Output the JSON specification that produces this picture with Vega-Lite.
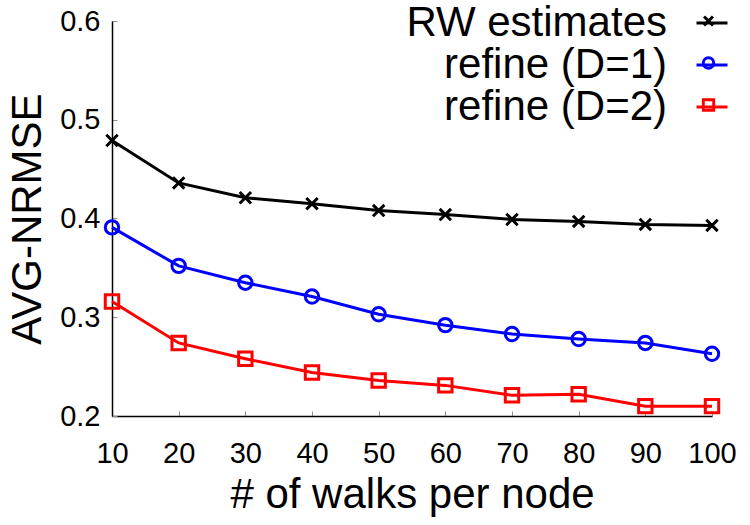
{
  "$schema": "https://vega.github.io/schema/vega-lite/v6.json",
  "width": 600,
  "height": 395,
  "autosize": {"type": "none"},
  "padding": {"left": 112, "top": 21, "right": 38, "bottom": 109},
  "background": "white",
  "config": {
    "view": {"stroke": null},
    "font": "Liberation Sans",
    "axis": {
      "grid": false,
      "domainColor": "#000000",
      "domainWidth": 1.5,
      "tickColor": "#909090",
      "tickWidth": 1,
      "tickSize": -5,
      "labelFont": "Liberation Sans",
      "labelFontSize": 29,
      "labelColor": "#000000",
      "titleFont": "Liberation Sans",
      "titleFontSize": 42,
      "titleFontWeight": "normal",
      "titleColor": "#000000"
    }
  },
  "data": {
    "values": [
      {"walks": 10, "series": "RW estimates", "nrmse": 0.479},
      {"walks": 20, "series": "RW estimates", "nrmse": 0.436},
      {"walks": 30, "series": "RW estimates", "nrmse": 0.421},
      {"walks": 40, "series": "RW estimates", "nrmse": 0.415},
      {"walks": 50, "series": "RW estimates", "nrmse": 0.408},
      {"walks": 60, "series": "RW estimates", "nrmse": 0.404},
      {"walks": 70, "series": "RW estimates", "nrmse": 0.399},
      {"walks": 80, "series": "RW estimates", "nrmse": 0.397},
      {"walks": 90, "series": "RW estimates", "nrmse": 0.394},
      {"walks": 100, "series": "RW estimates", "nrmse": 0.393},
      {"walks": 10, "series": "refine (D=1)", "nrmse": 0.391},
      {"walks": 20, "series": "refine (D=1)", "nrmse": 0.352},
      {"walks": 30, "series": "refine (D=1)", "nrmse": 0.335},
      {"walks": 40, "series": "refine (D=1)", "nrmse": 0.321},
      {"walks": 50, "series": "refine (D=1)", "nrmse": 0.303},
      {"walks": 60, "series": "refine (D=1)", "nrmse": 0.292},
      {"walks": 70, "series": "refine (D=1)", "nrmse": 0.283},
      {"walks": 80, "series": "refine (D=1)", "nrmse": 0.278},
      {"walks": 90, "series": "refine (D=1)", "nrmse": 0.274},
      {"walks": 100, "series": "refine (D=1)", "nrmse": 0.263},
      {"walks": 10, "series": "refine (D=2)", "nrmse": 0.316},
      {"walks": 20, "series": "refine (D=2)", "nrmse": 0.274},
      {"walks": 30, "series": "refine (D=2)", "nrmse": 0.258},
      {"walks": 40, "series": "refine (D=2)", "nrmse": 0.244},
      {"walks": 50, "series": "refine (D=2)", "nrmse": 0.236},
      {"walks": 60, "series": "refine (D=2)", "nrmse": 0.231},
      {"walks": 70, "series": "refine (D=2)", "nrmse": 0.221},
      {"walks": 80, "series": "refine (D=2)", "nrmse": 0.222},
      {"walks": 90, "series": "refine (D=2)", "nrmse": 0.210},
      {"walks": 100, "series": "refine (D=2)", "nrmse": 0.210}
    ]
  },
  "encoding": {
    "x": {
      "field": "walks",
      "type": "quantitative",
      "title": "# of walks per node",
      "scale": {"domain": [10, 100], "nice": false},
      "axis": {
        "values": [10, 20, 30, 40, 50, 60, 70, 80, 90, 100],
        "labelPadding": 28,
        "labelBaseline": "top",
        "labelFlush": false,
        "titlePadding": 6
      }
    },
    "y": {
      "field": "nrmse",
      "type": "quantitative",
      "title": "AVG-NRMSE",
      "scale": {"domain": [0.2, 0.6], "nice": false, "zero": false},
      "axis": {
        "values": [0.2, 0.3, 0.4, 0.5, 0.6],
        "format": ".1f",
        "labelPadding": 17,
        "labelFlush": false,
        "titlePadding": 10
      }
    }
  },
  "layer": [
    {
      "mark": {"type": "line", "strokeWidth": 3, "clip": false},
      "encoding": {
        "stroke": {
          "field": "series",
          "type": "nominal",
          "scale": {"range": ["#000000", "#0000ff", "#ff0000"]},
          "legend": {
            "orient": "none",
            "legendX": 579,
            "legendY": -19,
            "title": null,
            "padding": 0,
            "rowPadding": -1.5,
            "labelFont": "Liberation Sans",
            "labelFontSize": 42,
            "labelColor": "#000000",
            "labelAlign": "right",
            "labelOffset": -66,
            "labelLimit": 400,
            "symbolType": "M-1,0L1,0",
            "symbolSize": 961,
            "symbolStrokeWidth": 3
          }
        }
      }
    },
    {
      "mark": {"type": "point", "filled": false, "strokeWidth": 3, "size": 180, "opacity": 1, "clip": false},
      "encoding": {
        "color": {
          "field": "series",
          "type": "nominal",
          "scale": {
            "domain": ["RW estimates", "refine (D=1)", "refine (D=2)"],
            "range": ["#000000", "#0000ff", "#ff0000"]
          },
          "legend": {
            "orient": "none",
            "legendX": 589.5,
            "legendY": -20.75,
            "title": null,
            "padding": 0,
            "rowPadding": 0,
            "clipHeight": 41.5,
            "labelExpr": "''",
            "labelOffset": 0,
            "symbolSize": 110,
            "symbolStrokeWidth": 3
          }
        },
        "shape": {
          "field": "series",
          "type": "nominal",
          "scale": {
            "domain": ["RW estimates", "refine (D=1)", "refine (D=2)"],
            "range": ["M-0.85,-0.85L0.85,0.85M-0.85,0.85L0.85,-0.85", "circle", "square"]
          },
          "legend": null
        }
      }
    }
  ]
}
